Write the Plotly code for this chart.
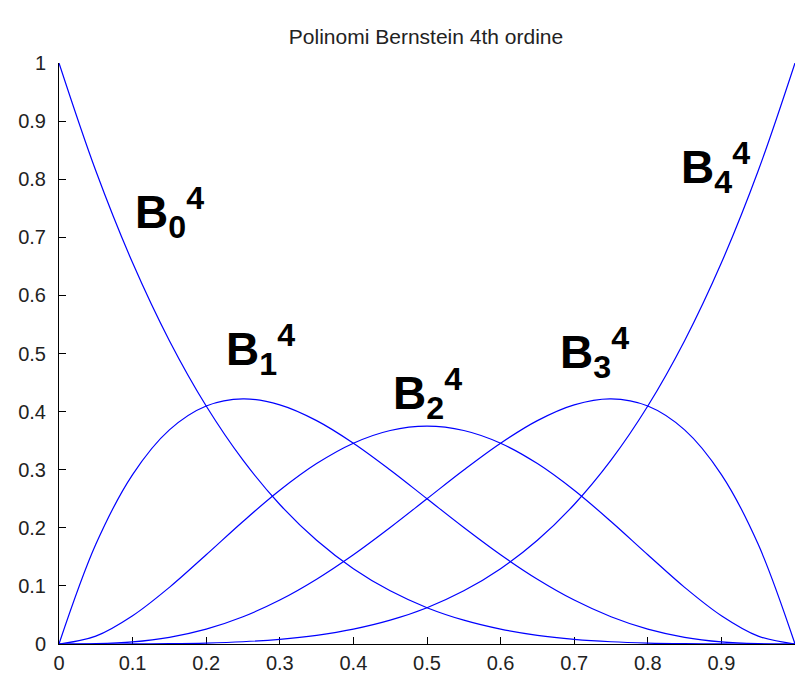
import plotly.graph_objects as go

# parameter t (x axis)
t_vals = [0.0, 0.05, 0.1, 0.15, 0.2, 0.25, 0.3, 0.35, 0.4, 0.45, 0.5,
          0.55, 0.6, 0.65, 0.7, 0.75, 0.8, 0.85, 0.9, 0.95, 1.0]

# Bernstein basis curves
b0 = [1.0, 0.8145, 0.6561, 0.5220, 0.4096, 0.3164, 0.2401, 0.1785, 0.1296, 0.0915, 0.0625,
      0.0410, 0.0256, 0.0150, 0.0081, 0.0039, 0.0016, 0.0005, 0.0001, 0.0000, 0.0]
b1 = [0.0, 0.1715, 0.2916, 0.3685, 0.4096, 0.4219, 0.4116, 0.3845, 0.3456, 0.2995, 0.2500,
      0.2005, 0.1536, 0.1115, 0.0756, 0.0469, 0.0256, 0.0115, 0.0036, 0.0005, 0.0]
b2 = [0.0, 0.0135, 0.0486, 0.0975, 0.1536, 0.2109, 0.2646, 0.3105, 0.3456, 0.3675, 0.3750,
      0.3675, 0.3456, 0.3105, 0.2646, 0.2109, 0.1536, 0.0975, 0.0486, 0.0135, 0.0]
b3 = [0.0, 0.0005, 0.0036, 0.0115, 0.0256, 0.0469, 0.0756, 0.1115, 0.1536, 0.2005, 0.2500,
      0.2995, 0.3456, 0.3845, 0.4116, 0.4219, 0.4096, 0.3685, 0.2916, 0.1715, 0.0]
b4 = [0.0, 0.0000, 0.0001, 0.0005, 0.0016, 0.0039, 0.0081, 0.0150, 0.0256, 0.0410, 0.0625,
      0.0915, 0.1296, 0.1785, 0.2401, 0.3164, 0.4096, 0.5220, 0.6561, 0.8145, 1.0]

series = [b0, b1, b2, b3, b4]

# curve labels and where they sit
label_texts = ["B<sub>0</sub><sup>4</sup>", "B<sub>1</sub><sup>4</sup>",
               "B<sub>2</sub><sup>4</sup>", "B<sub>3</sub><sup>4</sup>",
               "B<sub>4</sub><sup>4</sup>"]
label_x = [0.1005, 0.224, 0.451, 0.678, 0.842]
label_y = [0.742, 0.507, 0.431, 0.502, 0.821]

tick_vals = [0, 0.1, 0.2, 0.3, 0.4, 0.5, 0.6, 0.7, 0.8, 0.9, 1]
tick_text = ["0", "0.1", "0.2", "0.3", "0.4", "0.5", "0.6", "0.7", "0.8", "0.9", "1"]

fig = go.Figure()
for s in series:
    fig.add_trace(go.Scatter(x=t_vals, y=s, mode="lines",
                             line=dict(color="#0000ff", width=1.2, shape="spline"),
                             showlegend=False, hoverinfo="skip"))

for txt, lx, ly in zip(label_texts, label_x, label_y):
    fig.add_annotation(x=lx, y=ly, xref="x", yref="y", text="<b>" + txt + "</b>",
                       showarrow=False, xanchor="left", yanchor="middle",
                       font=dict(family="Liberation Sans, Arial", size=46, color="black"))

axis_common = dict(range=[0, 1], tickvals=tick_vals, ticktext=tick_text,
                   ticks="inside", ticklen=7, tickcolor="black", tickwidth=1,
                   showline=True, linecolor="black", linewidth=1, mirror=False,
                   showgrid=False, zeroline=False, layer="below traces",
                   tickfont=dict(family="Liberation Sans, Arial", size=20, color="#222222"))

fig.update_xaxes(**axis_common, ticklabelstandoff=1)
fig.update_yaxes(**axis_common, ticklabelstandoff=8)

fig.update_layout(
    width=795, height=673,
    margin=dict(l=59, r=0, t=63, b=29, autoexpand=False),
    paper_bgcolor="white", plot_bgcolor="white",
    title=dict(text="Polinomi Bernstein 4th ordine", x=426 / 795, xanchor="center",
               y=1 - 37 / 673, yanchor="middle",
               font=dict(family="Liberation Sans, Arial", size=21, color="#222222")),
)

fig.write_html("out.html", config={"displayModeBar": False},
               post_script="document.body.style.margin='0';document.body.style.overflow='hidden';")
